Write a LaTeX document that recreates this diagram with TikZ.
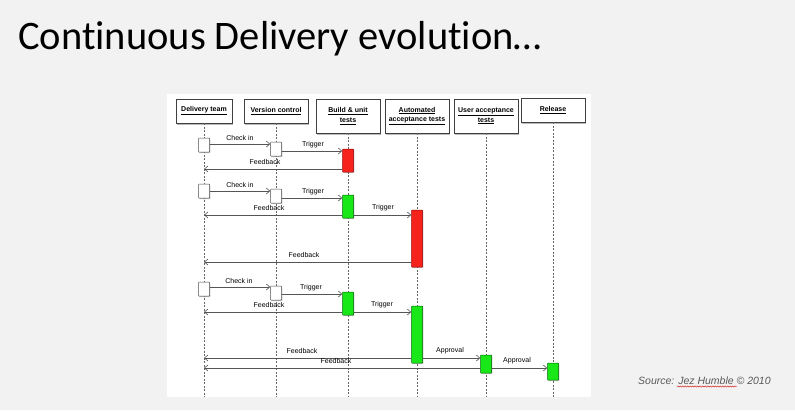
\documentclass[tikz,border=0pt]{standalone}
\usepackage{fontspec}
\setmainfont{Carlito}[Ligatures={NoCommon}]
\setsansfont{Liberation Sans}
\usetikzlibrary{arrows.meta,shadows,decorations.pathmorphing}
\definecolor{bg}{HTML}{F2F2F2}
\definecolor{actred}{HTML}{F5231C}
\definecolor{actgreen}{HTML}{18E818}
\definecolor{msgcol}{HTML}{555555}
\tikzset{
  head/.style={draw=black!75, fill=white, line width=0.5pt,
    drop shadow={shadow xshift=1.2pt, shadow yshift=-1.8pt, opacity=0.55},
    font=\fontsize{7}{8.5}\selectfont\sffamily\bfseries, align=center,
    inner sep=1pt, minimum width=64pt, minimum height=24pt},
  act/.style={draw=black!70, fill=white, line width=0.5pt, rounded corners=0.6pt,
    drop shadow={shadow xshift=0.8pt, shadow yshift=-1.2pt, opacity=0.45},
    minimum width=11pt, inner sep=0pt},
  redact/.style={act, fill=actred, draw=red!60!black},
  greenact/.style={act, fill=actgreen, draw=green!40!black},
  life/.style={draw=black!60, line width=0.5pt, dash pattern=on 2pt off 1.5pt},
  msg/.style={draw=msgcol, line width=0.6pt, -{Straight Barb[length=3.5pt,width=6pt]}},
  lbl/.style={font=\fontsize{7}{8}\selectfont\sffamily, inner sep=0pt}
}
\begin{document}
\begin{tikzpicture}[x=1pt,y=-1pt]
\fill[bg] (0,0) rectangle (795,410);
\useasboundingbox (0,0) rectangle (795,410);
\fill[white] (167,94) rectangle (591,397);
\coordinate (bot) at (0,397);

\node[anchor=base west, inner sep=0pt, font=\fontsize{40.5}{42}\selectfont] (title) at (18,49) {Continuous Delivery evolution…};

% headers
\node[head, minimum width=56pt] (dt) at (204,111) {\underline{Delivery team}};
\node[head] (vc) at (276,111) {\underline{Version control}};
\node[head, minimum height=34pt] (bu) at (348,116) {\underline{Build \& unit}\\[1pt]\underline{tests}};
\node[head, minimum height=34pt] (aa) at (417,116) {\underline{Automated}\\[1pt]\underline{acceptance tests}};
\node[head, minimum height=34pt] (ua) at (486,116) {\underline{User acceptance}\\[1pt]\underline{tests}};
\node[head] (re) at (553,110) {\underline{Release}};

% lifelines
\foreach \n in {dt,vc,bu,aa,ua,re}{
  \draw[life] (\n.south) -- (\n.south |- bot);
}

% round 1
\node[act, minimum height=14pt] (d1) at (204,145) {};
\node[act, minimum height=14pt] (v1) at (276,149) {};
\node[redact, minimum height=23pt] (b1) at (348,160.5) {};
% round 2
\node[act, minimum height=14pt] (d2) at (204,191) {};
\node[act, minimum height=14pt] (v2) at (276,196) {};
\node[greenact, minimum height=23pt] (b2) at (348,206.5) {};
\node[redact, minimum height=57pt] (a2) at (417,238.5) {};
% round 3
\node[act, minimum height=14pt] (d3) at (204,289) {};
\node[act, minimum height=14pt] (v3) at (276,293) {};
\node[greenact, minimum height=23pt] (b3) at (348,303.5) {};
\node[greenact, minimum height=57pt] (a3) at (417,334.5) {};
\node[greenact, minimum height=18pt] (u3) at (486,364) {};
\node[greenact, minimum height=17pt] (r3) at (553,371.5) {};

% messages round 1
\draw[msg] (d1.east |- 0,144) -- (v1.west |- 0,144);
\draw[msg] (v1.east |- 0,151) -- (b1.west |- 0,151);
\draw[msg] (b1.west |- 0,169) -- (dt.south |- 0,169);
\node[lbl] (l1a) at (240,138) {Check in};
\node[lbl] (l1b) at (313,145) {Trigger};
\node[lbl] (l1c) at (265,162) {Feedback};

% messages round 2
\draw[msg] (d2.east |- 0,191) -- (v2.west |- 0,191);
\draw[msg] (v2.east |- 0,198) -- (b2.west |- 0,198);
\draw[msg] (b2.west |- 0,215) -- (dt.south |- 0,215);
\draw[msg] (b2.east |- 0,215) -- (a2.west |- 0,215);
\draw[msg] (a2.west |- 0,262) -- (dt.south |- 0,262);
\node[lbl] (l2a) at (240,185) {Check in};
\node[lbl] (l2b) at (313,192) {Trigger};
\node[lbl] (l2c) at (269,208) {Feedback};
\node[lbl] (l2d) at (383,208) {Trigger};
\node[lbl] (l2e) at (304,255) {Feedback};

% messages round 3
\draw[msg] (d3.east |- 0,287) -- (v3.west |- 0,287);
\draw[msg] (v3.east |- 0,294) -- (b3.west |- 0,294);
\draw[msg] (b3.west |- 0,312) -- (dt.south |- 0,312);
\draw[msg] (b3.east |- 0,312) -- (a3.west |- 0,312);
\draw[msg] (a3.west |- 0,358) -- (dt.south |- 0,358);
\draw[msg] (a3.east |- 0,358) -- (u3.west |- 0,358);
\draw[msg] (u3.west |- 0,368) -- (dt.south |- 0,368);
\draw[msg] (u3.east |- 0,368) -- (r3.west |- 0,368);
\node[lbl] (l3a) at (239,281) {Check in};
\node[lbl] (l3b) at (311,288) {Trigger};
\node[lbl] (l3c) at (269,305) {Feedback};
\node[lbl] (l3d) at (382,305) {Trigger};
\node[lbl] (l3e) at (302,351) {Feedback};
\node[lbl] (l3f) at (450,351) {Approval};
\node[lbl] (l3g) at (336,361) {Feedback};
\node[lbl] (l3h) at (517,361) {Approval};

% source
\node[anchor=west, inner sep=0pt, font=\fontsize{10.5}{12}\selectfont\sffamily\itshape, text=black!65] (src) at (638,381) {Source: Jez Humble © 2010};
\draw[red!80!black, line width=0.4pt, decorate, decoration={snake, amplitude=0.6pt, segment length=2.5pt}] (677,386.5) -- (737,386.5);
\end{tikzpicture}
\end{document}
